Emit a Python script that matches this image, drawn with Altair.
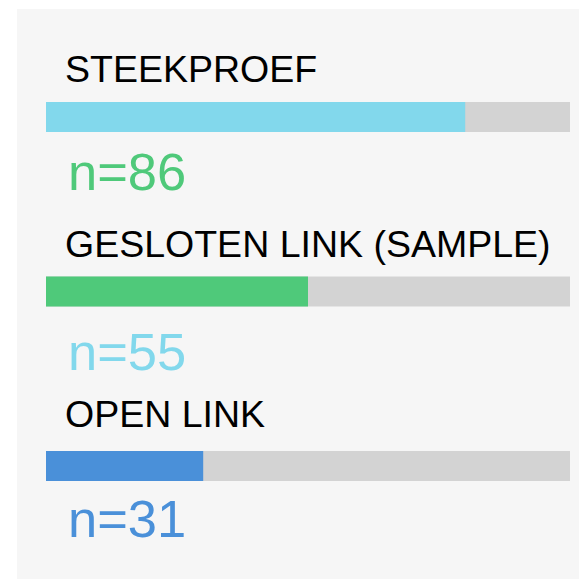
import altair as alt
import pandas as pd

# ---- data ----
labels = ["STEEKPROEF", "GESLOTEN LINK (SAMPLE)", "OPEN LINK"]
percent = [80, 50, 30]
counts = [86, 55, 31]
rows = [0, 1, 2]

# ---- styles / layout (not data) ----
bar_colors = ["#82d8ec", "#4fc97a", "#4a90d9"]
count_colors = ["#4fc97a", "#82d8ec", "#4a90d9"]
track_color = "#d3d3d3"
bg_color = "#f6f6f6"
label_dy = [-35, -35, -39]
count_dy = [73, 78, 71]

df = pd.DataFrame({
    "row": rows,
    "label": labels,
    "pct": percent,
    "full": [100] * len(rows),
    "ntext": [f"n={c}" for c in counts],
})

xs = alt.Scale(domain=[0, 100], range=[29, 553], padding=0, nice=False, zero=True)
ys = alt.Scale(domain=[0, 2], range=[108, 457], padding=0, nice=False)

base = alt.Chart(df)

track = base.mark_bar(size=30, orient="horizontal", color=track_color).encode(
    x=alt.X("full:Q", scale=xs, axis=None),
    y=alt.Y("row:Q", scale=ys, axis=None),
)

bars = base.mark_bar(size=30, orient="horizontal").encode(
    x=alt.X("pct:Q", scale=xs, axis=None),
    y=alt.Y("row:Q", scale=ys, axis=None),
    color=alt.Color("label:N", scale=alt.Scale(domain=labels, range=bar_colors), legend=None),
)

layers = [track, bars]
for i, r in enumerate(rows):
    layers.append(
        base.transform_filter(alt.datum.row == r).mark_text(
            align="left", baseline="alphabetic", fontSize=37.5,
            font="Liberation Sans", color="#000000", dx=19, dy=label_dy[i],
        ).encode(
            x=alt.X(datum=0, scale=xs, axis=None),
            y=alt.Y("row:Q", scale=ys, axis=None),
            text="label:N",
        )
    )
    layers.append(
        base.transform_filter(alt.datum.row == r).mark_text(
            align="left", baseline="alphabetic", fontSize=52.5,
            font="Liberation Sans", color=count_colors[i], dx=22, dy=count_dy[i],
        ).encode(
            x=alt.X(datum=0, scale=xs, axis=None),
            y=alt.Y("row:Q", scale=ys, axis=None),
            text="ntext:N",
        )
    )

chart = alt.layer(*layers).properties(
    width=562,
    height=570,
    padding={"left": 9, "top": 1, "right": 0, "bottom": 0},
    autosize=alt.AutoSizeParams(type="none"),
    background="white",
).configure_view(fill=bg_color, stroke=None)

chart.save("out.html", embed_options={"renderer": "svg", "actions": False})
